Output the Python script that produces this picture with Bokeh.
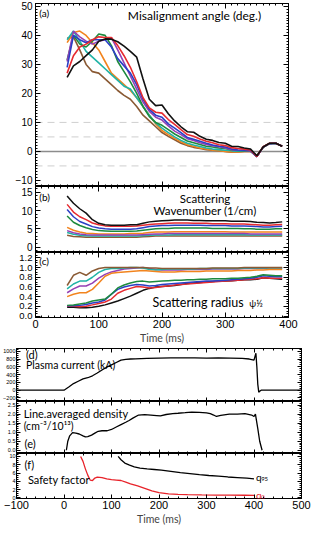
from bokeh.plotting import figure
from bokeh.layouts import column
from bokeh.models import (Range1d, LinearAxis, SingleIntervalTicker, Span, Label, CustomJSTickFormatter,
                          PrintfTickFormatter)
from bokeh.embed import file_html
from bokeh.resources import INLINE

# ---------------- data ----------------
T = [50, 60, 70, 80, 90, 100, 110, 120, 130, 140, 150, 160, 170, 180, 190, 200, 210, 220,
     230, 240, 250, 260, 270, 280, 290, 300, 310, 320, 330, 340, 350, 360, 370, 380, 390]

SERIES = ["black", "red", "blue", "purple", "green", "teal", "orange", "brown"]
COLORS = {"black": "#111111", "red": "#e62a30", "blue": "#2b3fc6", "purple": "#9440b4",
          "green": "#1d8a3e", "teal": "#1fb3a6", "orange": "#f2841e", "brown": "#8a5a34"}

# (a) misalignment angle (deg.)
ang_black = [25.5, 29.5, 31.0, 33.0, 35.0, 38.0, 38.8, 38.7, 37.8, 36.3, 34.5, 32.5, 25.0, 18.0, 15.8, 16.0, 13.0, 10.5,
             8.5, 6.8, 6.6, 5.2, 4.2, 3.8, 3.1, 2.8, 1.8, 1.7, 1.2, 0.8, -1.5, 1.5, 2.8, 2.8, 1.8]
ang_red = [27.0, 33.0, 36.0, 37.0, 38.5, 39.5, 39.3, 39.3, 36.5, 33.0, 29.0, 24.0, 18.5, 15.0, 13.5, 13.2, 11.0, 9.3,
           7.5, 5.8, 5.2, 4.3, 3.5, 3.0, 2.3, 2.0, 1.3, 1.0, 0.8, 0.5, -1.8, 1.6, 2.8, 2.8, 1.8]
ang_blue = [29.0, 40.0, 38.5, 37.5, 38.5, 38.5, 38.5, 36.0, 32.0, 29.5, 27.0, 23.0, 18.0, 14.5, 12.5, 11.8, 9.5, 8.0,
            6.5, 4.8, 4.2, 3.5, 2.8, 2.2, 1.8, 1.5, 0.8, 0.5, 0.4, 0.3, -1.8, 1.5, 2.7, 2.8, 1.8]
ang_purple = [31.0, 41.5, 39.5, 38.0, 37.0, 38.0, 38.5, 39.2, 35.0, 30.5, 26.0, 21.5, 17.0, 13.8, 11.8, 10.8, 8.8, 7.0,
              5.8, 4.4, 3.8, 3.0, 2.4, 2.0, 1.6, 1.2, 0.6, 0.4, 0.3, 0.2, -1.8, 1.5, 2.7, 2.8, 1.8]
ang_green = [31.5, 40.0, 37.0, 36.0, 38.0, 40.5, 40.0, 36.5, 31.0, 27.5, 24.0, 20.0, 15.5, 12.0, 10.0, 9.0, 7.5, 6.0,
             4.8, 3.6, 3.0, 2.4, 1.8, 1.5, 1.2, 1.0, 0.5, 0.3, 0.2, 0.2, -1.8, 1.5, 2.7, 2.8, 1.8]
ang_teal = [38.5, 41.5, 38.0, 34.5, 32.5, 30.5, 28.5, 26.5, 24.5, 22.5, 21.5, 18.5, 15.5, 12.5, 9.8, 8.0, 6.5, 5.0,
            3.8, 2.8, 2.2, 1.7, 1.2, 0.8, 0.6, 0.4, 0.2, 0.1, 0.1, 0.1, -1.8, 1.5, 2.7, 2.8, 1.8]
ang_orange = [37.5, 41.0, 41.5, 40.0, 37.5, 35.0, 31.0, 27.0, 25.0, 23.0, 21.0, 18.5, 15.5, 12.5, 9.5, 7.2, 5.8, 4.5,
              3.3, 2.3, 1.8, 1.2, 0.8, 0.4, 0.2, 0.0, -0.2, -0.2, 0.0, 0.0, -1.5, 1.5, 2.7, 2.8, 1.8]
ang_brown = [39.0, 39.5, 35.0, 30.0, 27.5, 27.0, 25.0, 23.0, 21.0, 19.3, 18.0, 15.5, 12.5, 10.5, 8.5, 6.5, 5.2, 4.0,
             2.8, 2.0, 1.4, 1.0, 0.6, 0.4, 0.2, 0.0, -0.3, -0.2, 0.0, 0.0, -1.5, 1.5, 2.7, 2.8, 1.8]

# (b) scattering wavenumber (1/cm)
k_black = [14.0, 12.0, 10.5, 9.3, 7.5, 6.5, 6.1, 6.0, 6.0, 6.0, 6.1, 6.1, 6.5, 6.9, 7.1, 7.2, 7.3, 7.4,
           7.4, 7.4, 7.3, 7.3, 7.2, 7.2, 7.2, 7.2, 7.1, 7.1, 7.1, 7.0, 6.8, 6.7, 6.6, 6.7, 6.9]
k_red = [11.7, 9.6, 8.3, 7.5, 6.6, 6.1, 5.8, 5.7, 5.7, 5.7, 5.7, 5.8, 6.0, 6.2, 6.3, 6.4, 6.5, 6.6,
         6.6, 6.6, 6.5, 6.5, 6.5, 6.4, 6.4, 6.4, 6.3, 6.3, 6.3, 6.2, 6.1, 6.0, 6.0, 6.1, 6.2]
k_blue = [10.3, 8.3, 7.0, 6.3, 5.6, 5.2, 5.0, 4.9, 4.9, 4.9, 4.9, 5.0, 5.3, 5.6, 5.8, 5.9, 5.9, 6.0,
          6.0, 6.0, 6.0, 6.0, 5.9, 5.9, 5.9, 5.9, 5.8, 5.8, 5.8, 5.7, 5.6, 5.5, 5.5, 5.6, 5.7]
k_green = [8.5, 6.8, 5.9, 5.3, 4.8, 4.5, 4.4, 4.3, 4.3, 4.3, 4.3, 4.4, 4.6, 4.8, 5.0, 5.1, 5.1, 5.2,
           5.2, 5.2, 5.2, 5.2, 5.2, 5.1, 5.1, 5.1, 5.1, 5.1, 5.0, 5.0, 4.9, 4.9, 4.9, 5.0, 5.0]
k_orange = [5.4, 4.6, 4.1, 3.8, 3.7, 3.6, 3.6, 3.6, 3.6, 3.6, 3.7, 3.7, 3.8, 4.0, 4.1, 4.1, 4.1, 4.2,
            4.2, 4.2, 4.2, 4.2, 4.2, 4.2, 4.2, 4.2, 4.1, 4.1, 4.1, 4.1, 4.1, 4.1, 4.1, 4.1, 4.1]
k_purple = [4.5, 3.9, 3.6, 3.4, 3.3, 3.3, 3.3, 3.3, 3.3, 3.3, 3.3, 3.3, 3.4, 3.5, 3.6, 3.6, 3.7, 3.7,
            3.7, 3.7, 3.7, 3.7, 3.7, 3.7, 3.7, 3.7, 3.7, 3.7, 3.7, 3.6, 3.6, 3.6, 3.6, 3.6, 3.6]
k_teal = [4.0, 3.5, 3.2, 3.1, 3.0, 3.0, 3.0, 3.0, 3.0, 3.0, 3.0, 3.0, 3.1, 3.2, 3.3, 3.3, 3.3, 3.4,
          3.4, 3.4, 3.4, 3.4, 3.4, 3.4, 3.4, 3.4, 3.4, 3.4, 3.4, 3.3, 3.3, 3.3, 3.3, 3.3, 3.3]
k_brown = [3.2, 2.9, 2.8, 2.7, 2.7, 2.7, 2.7, 2.7, 2.7, 2.7, 2.7, 2.7, 2.8, 2.9, 3.0, 3.0, 3.0, 3.0,
           3.0, 3.0, 3.0, 3.0, 3.0, 3.0, 3.0, 3.0, 3.0, 3.0, 3.0, 3.0, 3.0, 3.0, 3.0, 3.0, 3.0]

# (c) scattering radius psi^1/2
r_brown = [0.63, 0.84, 0.90, 0.84, 0.93, 0.98, 1.00, 1.00, 1.00, 1.00, 1.00, 1.00, 1.00, 0.99, 0.99, 0.98, 0.98, 0.98,
           0.98, 0.98, 0.98, 0.98, 0.98, 0.99, 0.99, 0.99, 0.99, 0.99, 1.00, 1.00, 1.00, 1.00, 1.00, 1.00, 1.00]
r_teal = [0.56, 0.66, 0.72, 0.72, 0.80, 0.90, 0.96, 0.98, 0.98, 0.99, 1.00, 1.00, 0.99, 0.96, 0.95, 0.96, 0.97, 0.97,
          0.97, 0.97, 0.97, 0.98, 0.98, 0.98, 0.98, 0.98, 0.98, 0.98, 0.99, 0.99, 0.99, 0.99, 0.99, 0.99, 0.99]
r_purple = [0.48, 0.56, 0.62, 0.62, 0.68, 0.78, 0.86, 0.91, 0.94, 0.97, 0.98, 0.99, 1.00, 0.98, 0.96, 0.95, 0.95, 0.95,
            0.95, 0.96, 0.96, 0.96, 0.96, 0.97, 0.97, 0.97, 0.97, 0.97, 0.98, 0.98, 0.98, 0.98, 0.99, 0.99, 0.99]
r_orange = [0.40, 0.45, 0.48, 0.48, 0.55, 0.68, 0.82, 0.88, 0.90, 0.91, 0.92, 0.93, 0.94, 0.93, 0.92, 0.91, 0.91, 0.91,
            0.92, 0.92, 0.92, 0.92, 0.93, 0.93, 0.93, 0.93, 0.93, 0.94, 0.94, 0.94, 0.95, 0.95, 0.96, 0.96, 0.96]
r_green = [0.22, 0.23, 0.25, 0.27, 0.31, 0.33, 0.35, 0.45, 0.58, 0.64, 0.68, 0.71, 0.72, 0.70, 0.71, 0.72, 0.73, 0.74,
           0.74, 0.75, 0.75, 0.76, 0.76, 0.77, 0.77, 0.77, 0.78, 0.78, 0.79, 0.80, 0.82, 0.85, 0.84, 0.83, 0.83]
r_blue = [0.21, 0.21, 0.22, 0.24, 0.27, 0.29, 0.33, 0.45, 0.55, 0.60, 0.63, 0.65, 0.64, 0.62, 0.63, 0.65, 0.66, 0.67,
          0.68, 0.69, 0.70, 0.71, 0.72, 0.72, 0.73, 0.74, 0.75, 0.76, 0.77, 0.78, 0.80, 0.83, 0.82, 0.81, 0.81]
r_red = [0.20, 0.20, 0.19, 0.20, 0.23, 0.26, 0.29, 0.35, 0.47, 0.53, 0.57, 0.61, 0.60, 0.58, 0.59, 0.61, 0.62, 0.64,
         0.65, 0.66, 0.67, 0.68, 0.69, 0.70, 0.71, 0.72, 0.73, 0.74, 0.75, 0.76, 0.77, 0.79, 0.78, 0.78, 0.78]
r_black = [0.18, 0.18, 0.17, 0.17, 0.18, 0.20, 0.23, 0.27, 0.31, 0.36, 0.41, 0.47, 0.53, 0.57, 0.60, 0.61, 0.62, 0.63,
           0.65, 0.67, 0.68, 0.69, 0.70, 0.71, 0.72, 0.72, 0.73, 0.74, 0.75, 0.75, 0.76, 0.79, 0.78, 0.77, 0.76]

ANG = {"black": ang_black, "red": ang_red, "blue": ang_blue, "purple": ang_purple,
       "green": ang_green, "teal": ang_teal, "orange": ang_orange, "brown": ang_brown}
KW = {"black": k_black, "red": k_red, "blue": k_blue, "purple": k_purple,
      "green": k_green, "teal": k_teal, "orange": k_orange, "brown": k_brown}
RAD = {"black": r_black, "red": r_red, "blue": r_blue, "purple": r_purple,
       "green": r_green, "teal": r_teal, "orange": r_orange, "brown": r_brown}

ZERO_LEVEL = 0
DASH_LEVELS = [10, 5, -5]

# (d) plasma current (kA)
t_ip = [-100, -50, 0, 10, 20, 30, 40, 50, 60, 70, 80, 90, 100, 110, 120, 130, 140, 150, 175, 200, 225, 250,
        275, 300, 325, 350, 375, 390, 395, 400, 404, 406, 408, 410, 412, 415, 450, 500]
ip = [0, 0, 0, 80, 170, 230, 290, 320, 370, 440, 520, 590, 650, 710, 770, 790, 800, 805, 815, 825, 830, 830,
      830, 825, 830, 825, 815, 800, 785, 770, 950, 600, 150, -50, -30, 0, 0, 0]

# (e) line averaged density (cm^-3/10^13)
t_ne = [5, 8, 12, 18, 25, 32, 40, 45, 50, 58, 65, 72, 80, 91, 100, 111, 120, 130, 137, 145, 157, 170, 183,
        195, 203, 215, 229, 240, 255, 269, 285, 300, 308, 315, 321, 330, 348, 365, 381, 395, 400, 403, 408, 412, 417]
ne = [0.0, 0.5, 0.8, 0.98, 0.95, 0.9, 0.8, 0.74, 0.76, 0.84, 0.95, 1.05, 1.08, 1.08, 1.15, 1.3, 1.42, 1.55, 1.65,
      1.78, 1.95, 1.97, 1.95, 1.92, 1.9, 1.98, 2.03, 2.05, 2.08, 2.11, 2.1, 2.07, 2.03, 1.95, 1.87, 1.93, 2.0, 2.0,
      2.03, 1.95, 1.87, 2.0, 1.2, 0.5, 0.0]

# (f) safety factor
t_q0 = [35, 40, 45, 50, 55, 60, 65, 70, 80, 90, 100, 110, 120, 130, 140, 155, 170, 185, 200, 220, 240, 260,
        290, 320, 350, 380, 400]
q0 = [10.0, 8.8, 7.0, 5.5, 4.3, 4.2, 4.8, 5.0, 4.9, 4.6, 4.4, 4.3, 4.2, 3.8, 3.4, 2.9, 2.3, 1.7, 1.3, 1.0, 0.85,
      0.78, 0.72, 0.7, 0.68, 0.65, 0.6]
t_q95 = [114, 120, 128, 138, 148, 160, 175, 190, 205, 225, 245, 265, 285, 305, 325, 345, 365, 385, 400]
q95 = [10.0, 9.2, 8.4, 7.9, 7.5, 7.2, 7.0, 6.85, 6.7, 6.4, 6.1, 5.85, 5.6, 5.4, 5.25, 5.05, 4.9, 4.75, 4.6]

# ---------------- styling helpers ----------------
W = 311
TICK_FONT = "Liberation Sans"
TEXT_FONT = "Lato"


def style_axis(ax, ticklen, show_labels, font_size, standoff, fmt=None):
    ax.axis_line_color = "black"
    ax.axis_line_width = 1
    ax.major_tick_in = ticklen
    ax.major_tick_out = 0
    ax.minor_tick_in = max(1, ticklen // 2)
    ax.minor_tick_out = 0
    ax.major_tick_line_color = "black"
    ax.minor_tick_line_color = "black"
    if show_labels:
        ax.major_label_text_font = TICK_FONT
        ax.major_label_text_font_size = font_size
        ax.major_label_text_color = "black"
        ax.major_label_standoff = standoff
        if fmt:
            ax.formatter = PrintfTickFormatter(format=fmt)
    else:
        ax.formatter = CustomJSTickFormatter(code="return ''")
        ax.major_label_text_font_size = "0px"
        ax.major_label_standoff = 0


def make_panel(h, xr, yr, borders, xtick, ytick, tick_len, ylab_font, xlab_font=None, xlabel=None,
               standoff=3, yfmt=None):
    lb, rb, tb, bb = borders
    p = figure(width=W, height=h, x_range=Range1d(*xr), y_range=Range1d(*yr),
               output_backend="svg", toolbar_location=None,
               x_axis_location=None, y_axis_location=None,
               min_border_left=lb, min_border_right=rb, min_border_top=tb, min_border_bottom=bb)
    p.outline_line_color = "black"
    p.background_fill_color = "white"
    p.border_fill_color = "white"
    p.xgrid.grid_line_color = None
    p.ygrid.grid_line_color = None
    for loc in ["left", "right"]:
        ax = LinearAxis(ticker=SingleIntervalTicker(interval=ytick[0], num_minor_ticks=ytick[1]))
        style_axis(ax, tick_len, loc == "left", ylab_font, standoff, yfmt)
        p.add_layout(ax, loc)
    for loc in ["above", "below"]:
        ax = LinearAxis(ticker=SingleIntervalTicker(interval=xtick[0], num_minor_ticks=xtick[1]))
        show = (loc == "below" and xlab_font is not None)
        style_axis(ax, tick_len, show, xlab_font, 2)
        if show and xlabel:
            ax.axis_label = xlabel
            ax.axis_label_text_font = TEXT_FONT
            ax.axis_label_text_font_style = "normal"
            ax.axis_label_text_font_size = "10.5px"
            ax.axis_label_standoff = 1
        p.add_layout(ax, loc)
    return p


def add_text(p, x, y, text, size, color="black", align="left", font=TEXT_FONT):
    p.add_layout(Label(x=x, y=y, text=text, text_font=font, text_font_size=size,
                       text_color=color, text_align=align, text_baseline="middle"))


TOP_X = (0, 400)
BOT_X = (-100, 500)
TOP_B = (35, 23)
BOT_B = (13, 10)

# ---------------- (a) ----------------
pa = make_panel(186, TOP_X, (-12.1, 51.0), (TOP_B[0], TOP_B[1], 3, 0), (100, 10), (10, 10), 5, "10px")
pa.add_layout(Span(location=ZERO_LEVEL, dimension="width", line_color="#8c8c8c", line_width=1.5, level="underlay"))
for lv in DASH_LEVELS:
    pa.add_layout(Span(location=lv, dimension="width", line_color="#cfcfcf", line_width=1,
                       line_dash="7 5", level="underlay"))
for s in reversed(SERIES):
    pa.line(T, ANG[s], line_color=COLORS[s], line_width=1.6)
add_text(pa, 6, 47.6, "(a)", "10px")
add_text(pa, 146, 46.8, "Misalignment angle (deg.)", "12px")

# ---------------- (b) ----------------
pb = make_panel(66, TOP_X, (-1.5, 16.6), (TOP_B[0], TOP_B[1], 0, 0), (100, 10), (5, 5), 5, "10px")
for s in reversed(SERIES):
    pb.line(T, KW[s], line_color=COLORS[s], line_width=1.5)
add_text(pb, 6, 13.6, "(b)", "10px")
add_text(pb, 268, 13.3, "Scattering", "11.5px", align="center")
add_text(pb, 268, 9.9, "Wavenumber (1/cm)", "11.5px", align="center")

# ---------------- (c) ----------------
pc = make_panel(94, TOP_X, (-0.03, 1.31), (TOP_B[0], TOP_B[1], 0, 27), (100, 10), (0.2, 4), 5, "9.5px",
                xlab_font="11px", xlabel="Time (ms)", yfmt="%.1f")
for s in SERIES:
    pc.line(T, RAD[s], line_color=COLORS[s], line_width=1.5)
add_text(pc, 6, 1.13, "(c)", "10px")
add_text(pc, 185, 0.28, "Scattering radius", "12.5px")
add_text(pc, 338, 0.265, "ψ½", "9px")

# ---------------- (d) ----------------
pd_ = make_panel(55, BOT_X, (-290, 1070), (BOT_B[0], BOT_B[1], 2, 0), (100, 5), (200, 4), 4, "5.5px", standoff=1)
pd_.line(t_ip, ip, line_color="black", line_width=1.3)
add_text(pd_, -80, 922, "(d)", "11px")
add_text(pd_, -80, 641, "Plasma current (kA)", "10.5px")

# ---------------- (e) ----------------
pe = make_panel(52, BOT_X, (-0.18, 2.7), (BOT_B[0], BOT_B[1], 0, 0), (100, 5), (0.5, 5), 4, "5.5px",
                standoff=1, yfmt="%.1f")
pe.line(t_ne, ne, line_color="black", line_width=1.3)
add_text(pe, -85, 2.05, "Line.averaged density", "11px")
add_text(pe, -85, 1.35, "(cm⁻³/10¹³)", "10.5px")
add_text(pe, -83, 0.39, "(e)", "11px")

# ---------------- (f) ----------------
pf = make_panel(74, BOT_X, (-0.13, 10.7), (BOT_B[0], BOT_B[1], 0, 23), (100, 5), (2, 4), 4, "5.5px",
                xlab_font="11px", xlabel="Time (ms)", standoff=1)
pf.line(t_q95, q95, line_color="black", line_width=1.3)
pf.line(t_q0, q0, line_color="#e8232a", line_width=1.3)
add_text(pf, -83, 8.0, "(f)", "11px")
add_text(pf, -76, 4.4, "Safety factor", "11px")
add_text(pf, 404, 5.0, "q", "10px")
add_text(pf, 415, 4.5, "95", "6px")
add_text(pf, 404, 0.6, "q", "10px", color="#e8232a")
add_text(pf, 415, 0.15, "0", "6px", color="#e8232a")

top = column(pa, pb, pc, spacing=0)
bottom = column(pd_, pe, pf, spacing=0)
layout = column(top, bottom, spacing=0)
open("out.html", "w").write(file_html(layout, INLINE))
